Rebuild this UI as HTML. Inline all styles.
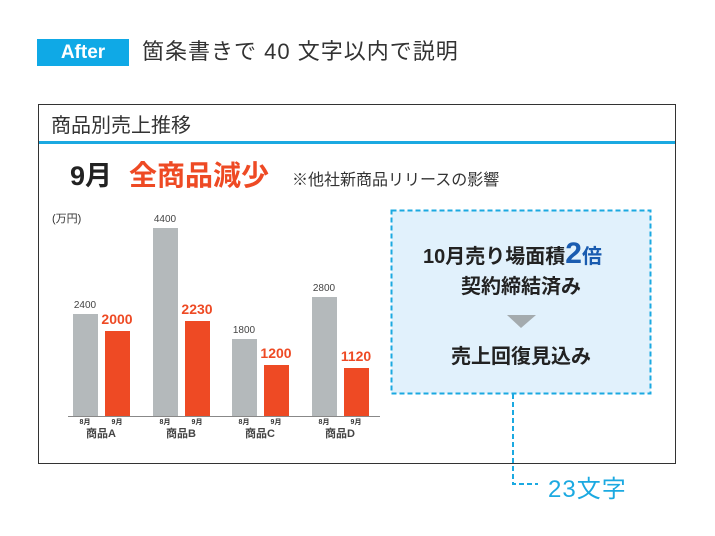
<!DOCTYPE html><html><head><meta charset="utf-8"><style>
body{margin:0;width:715px;height:536px;background:#fff;position:relative;overflow:hidden;font-family:"Liberation Sans","Noto Sans CJK JP",sans-serif;color:#222}
.a{position:absolute;white-space:nowrap}
</style></head><body>
<div class="a" style="left:37px;top:39px;width:92px;height:27px;background:#0fa9e6;color:#fff;font-weight:bold;font-size:19px;line-height:27px;text-align:center">After</div>
<div class="a" style="left:142px;top:37px;font-size:22px;line-height:30px;color:#333;letter-spacing:1px">箇条書きで 40 文字以内で説明</div>
<div class="a" style="left:38px;top:104px;width:636px;height:358px;border:1px solid #333"></div>
<div class="a" style="left:51px;top:113px;font-size:20px;line-height:26px;color:#333">商品別売上推移</div>
<div class="a" style="left:39px;top:141px;width:636px;height:3px;background:#1ba9e1"></div>
<div class="a" style="left:70px;top:158px;font-size:27px;font-weight:bold;line-height:36px">9月</div>
<div class="a" style="left:129px;top:158px;font-size:28px;font-weight:bold;line-height:36px;color:#ee4a24">全商品減少</div>
<div class="a" style="left:292px;top:170px;font-size:16px;line-height:22px;color:#333">※他社新商品リリースの影響</div>
<svg class="a" style="left:0;top:0" width="715" height="536" font-family="Liberation Sans,Noto Sans CJK JP,sans-serif">
<text x="52" y="222" font-size="11" fill="#333">(万円)</text>
<g fill="#b4b9bb"><rect x="73" y="314" width="25" height="102"/><rect x="153" y="228" width="25" height="188"/><rect x="232" y="339" width="25" height="77"/><rect x="312" y="297" width="25" height="119"/></g>
<g fill="#ee4a24"><rect x="105" y="331" width="25" height="85"/><rect x="185" y="321" width="25" height="95"/><rect x="264" y="365" width="25" height="51"/><rect x="344" y="368" width="25" height="48"/></g>
<line x1="68" y1="416.5" x2="380" y2="416.5" stroke="#888" stroke-width="1"/>
<g font-size="10" fill="#444" text-anchor="middle"><text x="85" y="308">2400</text><text x="165" y="222">4400</text><text x="244" y="333">1800</text><text x="324" y="291">2800</text></g>
<g font-size="14" font-weight="bold" fill="#ee4a24" text-anchor="middle"><text x="117" y="324">2000</text><text x="197" y="314">2230</text><text x="276" y="358">1200</text><text x="356" y="361">1120</text></g>
<g font-size="7" fill="#333" text-anchor="middle" font-weight="bold"><text x="85" y="424">8月</text><text x="117" y="424">9月</text><text x="165" y="424">8月</text><text x="197" y="424">9月</text><text x="244" y="424">8月</text><text x="276" y="424">9月</text><text x="324" y="424">8月</text><text x="356" y="424">9月</text></g>
<g font-size="11" fill="#444" text-anchor="middle" font-weight="bold"><text x="101" y="437">商品A</text><text x="181" y="437">商品B</text><text x="260" y="437">商品C</text><text x="340" y="437">商品D</text></g>
<rect x="391.5" y="210.5" width="259" height="183" fill="#e1f1fc" stroke="#1ba9e1" stroke-width="2" stroke-dasharray="5,3"/>
<path d="M513 394 V484 H538" fill="none" stroke="#1ba9e1" stroke-width="2" stroke-dasharray="5,3"/>
<text x="423" y="263" font-size="20" font-weight="bold" fill="#222">10月売り場面積<tspan font-size="30" fill="#1a5cb0">2</tspan><tspan fill="#1a5cb0">倍</tspan></text>
<text x="521" y="293" font-size="20" font-weight="bold" fill="#222" text-anchor="middle">契約締結済み</text>
<polygon points="507,315 536,315 521,328" fill="#a4abae"/>
<text x="521" y="363" font-size="20" font-weight="bold" fill="#222" text-anchor="middle">売上回復見込み</text>
<text x="548" y="497" font-size="24" fill="#1ba9e1" letter-spacing="1">23文字</text>
</svg>
</body></html>
